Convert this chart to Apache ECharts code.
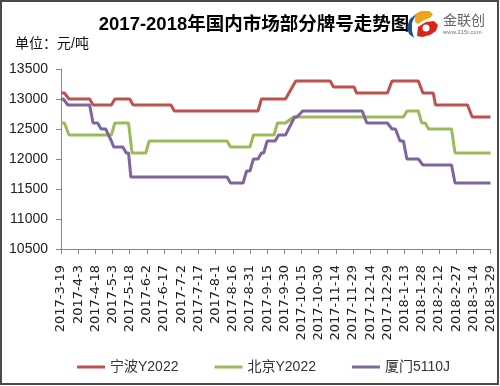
<!DOCTYPE html>
<html>
<head>
<meta charset="utf-8">
<script src="https://cdn.jsdelivr.net/npm/echarts@6/dist/echarts.min.js"></script>
<style>
html,body{margin:0;padding:0;background:#fff;}
#chart{width:500px;height:386px;}
</style>
</head>
<body>
<div id="chart"></div>
<script>
// ---- data (price change points: date, 元/吨) ----
const seriesNames = ['宁波Y2022', '北京Y2022', '厦门5110J'];
const xLabels = ['2017-3-19','2017-4-3','2017-4-18','2017-5-3','2017-5-18','2017-6-2','2017-6-17','2017-7-2','2017-7-17','2017-8-1','2017-8-16','2017-8-31','2017-9-15','2017-9-30','2017-10-15','2017-10-30','2017-11-14','2017-11-29','2017-12-14','2017-12-29','2018-1-13','2018-1-28','2018-2-12','2018-2-27','2018-3-14','2018-3-29'];
const yTicks = [10500, 11000, 11500, 12000, 12500, 13000, 13500];

const ningbo = [
  ['2017-3-19',13100],['2017-3-22',13100],['2017-3-26',13000],
  ['2017-4-13',13000],['2017-4-16',12900],
  ['2017-5-2',12900],['2017-5-5',13000],
  ['2017-5-18',13000],['2017-5-21',12900],
  ['2017-6-23',12900],['2017-6-26',12800],
  ['2017-9-7',12800],['2017-9-10',13000],
  ['2017-10-1',13000],['2017-10-7',13200],['2017-10-10',13300],
  ['2017-11-9',13300],['2017-11-12',13200],
  ['2017-11-30',13200],['2017-12-2',13100],
  ['2017-12-29',13100],['2018-1-2',13300],
  ['2018-1-25',13300],['2018-1-29',13100],
  ['2018-2-7',13100],['2018-2-9',12900],
  ['2018-3-9',12900],['2018-3-13',12700],
  ['2018-3-29',12700]
];
const beijing = [
  ['2017-3-19',12600],['2017-3-22',12600],['2017-3-26',12400],
  ['2017-5-2',12400],['2017-5-5',12600],
  ['2017-5-17',12600],['2017-5-20',12100],
  ['2017-6-1',12100],['2017-6-4',12300],
  ['2017-8-11',12300],['2017-8-14',12200],
  ['2017-8-31',12200],['2017-9-3',12400],
  ['2017-9-21',12400],['2017-9-24',12600],
  ['2017-10-1',12600],['2017-10-8',12700],
  ['2018-1-12',12700],['2018-1-15',12800],
  ['2018-1-25',12800],['2018-1-28',12600],['2018-1-31',12600],['2018-2-3',12500],
  ['2018-2-23',12500],['2018-2-26',12100],
  ['2018-3-29',12100]
];
const xiamen = [
  ['2017-3-19',13000],['2017-3-21',13000],['2017-3-25',12900],
  ['2017-4-13',12900],['2017-4-16',12600],['2017-4-20',12600],['2017-4-23',12500],
  ['2017-4-27',12500],['2017-5-2',12300],['2017-5-4',12200],['2017-5-12',12200],
  ['2017-5-15',12100],['2017-5-17',12100],['2017-5-19',11700],
  ['2017-8-11',11700],['2017-8-14',11600],
  ['2017-8-25',11600],['2017-8-28',11800],['2017-8-31',11800],['2017-9-3',12000],
  ['2017-9-7',12000],['2017-9-10',12100],['2017-9-12',12100],['2017-9-15',12300],
  ['2017-9-22',12300],['2017-9-25',12400],['2017-10-1',12400],['2017-10-9',12700],
  ['2017-10-11',12700],['2017-10-16',12800],
  ['2017-12-7',12800],['2017-12-11',12600],
  ['2017-12-29',12600],['2018-1-2',12500],['2018-1-5',12500],['2018-1-9',12300],
  ['2018-1-12',12300],['2018-1-15',12000],['2018-1-25',12000],['2018-1-29',11900],
  ['2018-2-23',11900],['2018-2-26',11600],['2018-3-29',11600]
];

// ---- helpers ----
function parseDay(s) {
  const p = s.split('-').map(Number);
  return Date.UTC(p[0], p[1] - 1, p[2]) / 86400000;
}
const day0 = parseDay(xLabels[0]);
const dayMax = parseDay(xLabels[xLabels.length - 1]) - day0;
const toXY = arr => arr.map(d => [parseDay(d[0]) - day0, d[1]]);

const colors = ['#C0504D', '#9BBB59', '#8064A2'];
const font = '"Liberation Sans", "Noto Sans CJK SC", sans-serif';

const chart = echarts.init(document.getElementById('chart'), null, {renderer: 'canvas'});
chart.setOption({
  animation: false,
  backgroundColor: '#fff',
  color: colors,
  grid: {left: 61, right: 9.5, top: 69, bottom: 137, containLabel: false, outerBoundsMode: 'none'},
  legend: {
    data: seriesNames,
    left: 72, top: 355,
    icon: 'rect', itemWidth: 28, itemHeight: 3, itemGap: 36,
    textStyle: {fontSize: 14, color: '#333', fontFamily: font}
  },
  xAxis: {
    type: 'value', min: 0, max: dayMax, interval: 15,
    splitLine: {show: false},
    axisLine: {show: true, lineStyle: {color: '#868686', width: 1}},
    axisTick: {show: true, length: 5, lineStyle: {color: '#868686'}},
    axisLabel: {
      rotate: 90, margin: 16, fontSize: 13, color: '#222',
      fontFamily: '"DejaVu Sans", sans-serif',
      showMinLabel: true, showMaxLabel: true,
      formatter: v => xLabels[Math.round(v / 15)] || ''
    }
  },
  yAxis: {
    type: 'value', min: yTicks[0], max: yTicks[yTicks.length - 1], interval: 500,
    splitLine: {show: false},
    axisLine: {show: true, lineStyle: {color: '#868686', width: 1}},
    axisTick: {show: true, length: 5, lineStyle: {color: '#868686'}},
    axisLabel: {margin: 13, fontSize: 14, color: '#222', fontFamily: font, formatter: v => String(v)}
  },
  series: [
    {name: seriesNames[0], type: 'line', data: toXY(ningbo), showSymbol: false, symbol: 'none', lineStyle: {width: 3}},
    {name: seriesNames[1], type: 'line', data: toXY(beijing), showSymbol: false, symbol: 'none', lineStyle: {width: 3}},
    {name: seriesNames[2], type: 'line', data: toXY(xiamen), showSymbol: false, symbol: 'none', lineStyle: {width: 3}}
  ],
  graphic: [
    {type: 'rect', shape: {x: 1, y: 1, width: 497, height: 383}, style: {fill: 'none', stroke: '#4a4a4a', lineWidth: 2}, silent: true},
    {type: 'text', x: 254, y: 25, style: {text: '2017-2018年国内市场部分牌号走势图', font: 'bold 18.5px ' + font, fill: '#000', textAlign: 'center', textVerticalAlign: 'middle'}},
    {type: 'text', x: 15, y: 44, style: {text: '单位：元/吨', font: '14px ' + font, fill: '#111', textAlign: 'left', textVerticalAlign: 'middle'}},
    // logo
    {type: 'polygon', shape: {points: [[416,14],[410,19],[407,27],[409,34],[414,38],[412,31],[412,23]]}, style: {fill: '#1f4e9c'}},
    {type: 'polygon', shape: {points: [[415,14],[421,11],[429,11],[433,14],[430,18],[424,20],[418,24],[415,22]]}, style: {fill: '#f2a31b'}},
    {type: 'polygon', shape: {points: [[418,27],[426,22],[434,21],[438,25],[436,31],[430,35],[422,37],[417,36]]}, style: {fill: '#d9261c'}},
    {type: 'circle', shape: {cx: 426, cy: 28, r: 3.5}, style: {fill: '#fff'}},
    {type: 'text', x: 443, y: 20, style: {text: '金联创', font: '14px "Noto Sans CJK SC", sans-serif', fill: '#666', textAlign: 'left', textVerticalAlign: 'middle'}},
    {type: 'text', x: 443, y: 32, style: {text: 'www.315i.com', font: '6px ' + font, fill: '#777', textAlign: 'left', textVerticalAlign: 'middle'}}
  ]
});
</script>
</body>
</html>
